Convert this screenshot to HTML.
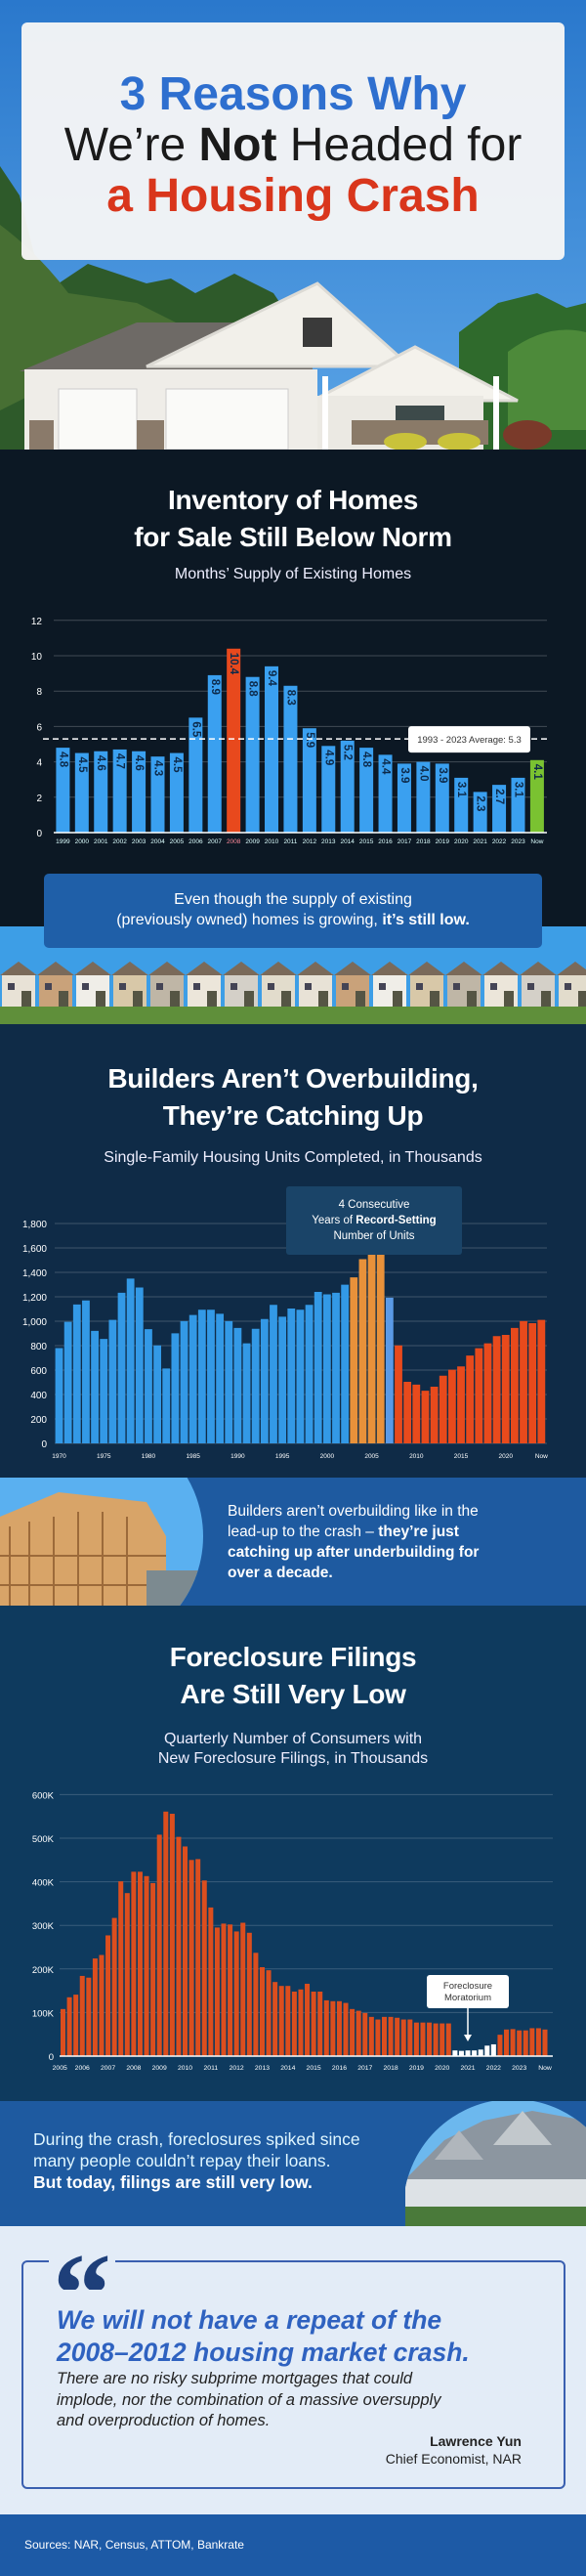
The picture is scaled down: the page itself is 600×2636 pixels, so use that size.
<!DOCTYPE html>
<html><head><meta charset="utf-8"><title>3 Reasons Why We're Not Headed for a Housing Crash</title>
<style>
*{margin:0;padding:0;box-sizing:border-box}
body{width:600px;height:2636px;position:relative;overflow:hidden;font-family:"Liberation Sans",sans-serif;background:#0c1824}
.abs{position:absolute}
.t{position:absolute;left:0;width:600px;text-align:center;color:#fff}
.h2{font-weight:bold;font-size:28px;line-height:38px;letter-spacing:-0.3px}
.sub{font-size:16px;line-height:21px;color:#eef}
</style></head><body>

<!-- Header photo -->
<svg class="abs" style="left:0;top:0" width="600" height="460">
<defs><linearGradient id="sky" x1="0" y1="0" x2="0" y2="1"><stop offset="0" stop-color="#2a78cc"/><stop offset="1" stop-color="#5aa4e6"/></linearGradient></defs>
<rect width="600" height="460" fill="url(#sky)"/>
<path d="M0 170 L20 200 L35 260 L60 290 L90 270 L120 280 L150 290 L175 285 L200 300 L240 280 L280 300 L300 330 L300 460 L0 460Z" fill="#2e5a2a"/>
<path d="M0 230 Q40 260 70 300 L140 310 L180 330 L0 420Z" fill="#476f33"/>
<path d="M470 340 L510 310 L550 300 L580 315 L600 310 L600 460 L470 460Z" fill="#2f6a2c"/>
<path d="M520 360 Q560 330 600 340 L600 440 L520 440Z" fill="#4d8a3a"/>
<polygon points="20,380 140,330 320,330 320,380" fill="#6e6a66"/>
<polygon points="150,375 325,290 420,375" fill="#f2f0ea" stroke="#dcdad4" stroke-width="3"/>
<polygon points="320,410 425,355 530,410" fill="#f4f2ec" stroke="#dedcd6" stroke-width="3"/>
<rect x="25" y="378" width="300" height="82" fill="#efede8"/>
<rect x="325" y="405" width="170" height="55" fill="#ebe9e3"/>
<rect x="60" y="398" width="80" height="62" fill="#fafaf8" stroke="#ccc"/>
<rect x="170" y="398" width="125" height="62" fill="#fafaf8" stroke="#ccc"/>
<rect x="30" y="430" width="25" height="30" fill="#8a7a6a"/>
<rect x="140" y="430" width="28" height="30" fill="#8a7a6a"/>
<rect x="310" y="325" width="30" height="30" fill="#3a3a3a"/>
<rect x="330" y="385" width="6" height="75" fill="#fff"/>
<rect x="505" y="385" width="6" height="75" fill="#fff"/>
<rect x="405" y="415" width="50" height="35" fill="#3d4a4a"/>
<rect x="360" y="430" width="140" height="25" fill="#8a7a68"/>
<ellipse cx="415" cy="452" rx="22" ry="9" fill="#c9c23a"/>
<ellipse cx="470" cy="452" rx="22" ry="9" fill="#c9c23a"/>
<ellipse cx="540" cy="445" rx="25" ry="15" fill="#7a3a2a"/>
</svg>
<div class="abs" style="left:22px;top:23px;width:556px;height:243px;background:rgba(246,246,246,0.96);border-radius:6px"></div>
<div class="t" style="top:71px;font-size:48px;line-height:52px;color:#1a1a1a">
<div style="font-weight:bold;color:#2e6fcf">3 Reasons Why</div>
<div>We’re <b>Not</b> Headed for</div>
<div style="font-weight:bold;color:#d9361c">a Housing Crash</div>
</div>

<!-- Section 1 -->
<div class="abs" style="left:0;top:460px;width:600px;height:490px;background:#0c1824"></div>
<div class="t h2" style="top:493px">Inventory of Homes<br>for Sale Still Below Norm</div>
<div class="t sub" style="top:577px">Months’ Supply of Existing Homes</div>

<!-- sky + houses strip -->
<svg class="abs" style="left:0;top:948px" width="600" height="100">
<rect width="600" height="100" fill="#3d9ee6"/>
<g id="hs"></g>
<rect y="82" width="600" height="18" fill="#5f8f3a"/>
</svg>
<div class="abs" style="left:45px;top:894px;width:510px;height:76px;background:#1f5fa8;border-radius:5px;color:#fff;font-size:16px;line-height:21px;text-align:center;padding-top:16px">Even though the supply of existing<br>(previously owned) homes is growing, <b>it’s still low.</b></div>

<!-- Section 2 -->
<div class="abs" style="left:0;top:1048px;width:600px;height:464px;background:#0f2b47"></div>
<div class="t h2" style="top:1085px">Builders Aren’t Overbuilding,<br>They’re Catching Up</div>
<div class="t sub" style="top:1174px">Single-Family Housing Units Completed, in Thousands</div>

<!-- Builders callout band -->
<div class="abs" style="left:0;top:1512px;width:600px;height:131px;background:#1e5aa0"></div>
<svg class="abs" style="left:0;top:1512px" width="210" height="131">
<defs><clipPath id="c1"><circle cx="90" cy="60" r="118"/></clipPath></defs>
<g clip-path="url(#c1)"><rect width="210" height="131" fill="#5ab0f0"/>
<polygon points="0,40 60,15 150,25 170,60 170,131 0,131" fill="#d8a468"/>
<g stroke="#9c6a3a" stroke-width="2"><line x1="10" y1="50" x2="10" y2="131"/><line x1="30" y1="45" x2="30" y2="131"/><line x1="55" y1="40" x2="55" y2="131"/><line x1="80" y1="35" x2="80" y2="131"/><line x1="105" y1="35" x2="105" y2="131"/><line x1="130" y1="40" x2="130" y2="131"/><line x1="0" y1="80" x2="170" y2="80"/><line x1="0" y1="110" x2="170" y2="110"/></g>
<rect x="150" y="95" width="60" height="36" fill="#7c8a90"/></g>
</svg>
<div class="abs" style="left:233px;top:1536px;color:#fff;font-size:15.5px;line-height:21px">Builders aren’t overbuilding like in the<br>lead-up to the crash – <b>they’re just<br>catching up after underbuilding for<br>over a decade.</b></div>

<!-- Section 3 -->
<div class="abs" style="left:0;top:1643px;width:600px;height:507px;background:#0e3a5e"></div>
<div class="t h2" style="top:1677px">Foreclosure Filings<br>Are Still Very Low</div>
<div class="t sub" style="top:1770px;line-height:20px">Quarterly Number of Consumers with<br>New Foreclosure Filings, in Thousands</div>

<!-- Foreclosure callout band -->
<div class="abs" style="left:0;top:2150px;width:600px;height:128px;background:#1e5aa0"></div>
<svg class="abs" style="left:415px;top:2150px" width="185" height="128">
<defs><clipPath id="c2"><circle cx="110" cy="110" r="112"/></clipPath></defs>
<g clip-path="url(#c2)"><rect width="185" height="128" fill="#6cb8ee"/>
<polygon points="0,80 40,40 80,20 130,10 185,20 185,128 0,128" fill="#8c96a0"/>
<polygon points="30,60 55,30 80,60" fill="#b0b6bc"/><polygon points="90,45 120,10 150,45" fill="#c2c8cc"/>
<rect x="0" y="80" width="185" height="30" fill="#dde2e6"/><rect y="108" width="185" height="20" fill="#4a7a3a"/></g>
</svg>
<div class="abs" style="left:34px;top:2178px;color:#dff6ff;font-size:17.5px;line-height:22px">During the crash, foreclosures spiked since<br>many people couldn’t repay their loans.<br><b style="color:#fff">But today, filings are still very low.</b></div>

<!-- Quote section -->
<div class="abs" style="left:0;top:2278px;width:600px;height:295px;background:#e3ecf7"></div>
<div class="abs" style="left:22px;top:2313px;width:557px;height:234px;border:2px solid #3a5fb0;border-radius:6px"></div>
<div class="abs" style="left:50px;top:2293px;width:68px;height:50px;background:#e3ecf7;color:#1e3f7a;font-family:'Liberation Serif',serif;font-size:120px;font-weight:bold;line-height:110px;text-align:center;overflow:hidden">“</div>
<div class="abs" style="left:58px;top:2358px;color:#2f62c0;font-size:26.5px;line-height:33px;font-weight:bold;font-style:italic">We will not have a repeat of the<br>2008–2012 housing market crash.</div>
<div class="abs" style="left:58px;top:2424px;color:#222;font-size:16.5px;line-height:21.5px;font-style:italic">There are no risky subprime mortgages that could<br>implode, nor the combination of a massive oversupply<br>and overproduction of homes.</div>
<div class="abs" style="right:66px;top:2489px;text-align:right;color:#222;font-size:14px;line-height:18px"><b>Lawrence Yun</b><br>Chief Economist, NAR</div>

<div class="abs" style="left:0;top:2573px;width:600px;height:63px;background:#1d5aa6"></div>
<div class="abs" style="left:25px;top:2597px;color:#fff;font-size:12px">Sources: NAR, Census, ATTOM, Bankrate</div>

<svg id="charts" class="abs" style="left:0;top:0;pointer-events:none" width="600" height="2636"></svg>

<script>
const invYears = ["1999","2000","2001","2002","2003","2004","2005","2006","2007","2008","2009","2010","2011","2012","2013","2014","2015","2016","2017","2018","2019","2020","2021","2022","2023","Now"];
const invValues = [4.8,4.5,4.6,4.7,4.6,4.3,4.5,6.5,8.9,10.4,8.8,9.4,8.3,5.9,4.9,5.2,4.8,4.4,3.9,4.0,3.9,3.1,2.3,2.7,3.1,4.1];
const invTicks = [0,2,4,6,8,10,12];
const invAverage = 5.3;

const bldYears = ["1970","1971","1972","1973","1974","1975","1976","1977","1978","1979","1980","1981","1982","1983","1984","1985","1986","1987","1988","1989","1990","1991","1992","1993","1994","1995","1996","1997","1998","1999","2000","2001","2002","2003","2004","2005","2006","2007","2008","2009","2010","2011","2012","2013","2014","2015","2016","2017","2018","2019","2020","2021","2022","2023","Now"];
const bldValues = [780,995,1137,1170,921,855,1011,1233,1349,1276,935,802,613,901,1001,1051,1094,1094,1061,1001,945,819,938,1018,1134,1037,1104,1094,1134,1240,1220,1233,1299,1359,1508,1608,1624,1193,802,504,481,431,464,554,603,630,719,779,819,878,888,945,1001,984,1011];
const bldTicks = [0,200,400,600,800,1000,1200,1400,1600,1800];
const bldTickLabels = ["0","200","400","600","800","1,000","1,200","1,400","1,600","1,800"];
const bldXLabels = ["1970","1975","1980","1985","1990","1995","2000","2005","2010","2015","2020","Now"];

const fcValues = [108,135,141,184,180,224,232,277,317,401,374,423,423,413,397,508,561,556,503,481,450,452,403,341,295,304,302,286,306,283,237,204,197,170,161,161,148,153,166,148,148,128,126,126,122,108,104,99,90,84,90,90,88,84,84,77,77,77,75,75,75,13,12,13,13,15,24,27,49,61,62,59,59,64,64,61];
const fcMoratorium = [61,62,63,64,65,66,67];
const fcTicks = [0,100,200,300,400,500,600];
const fcTickLabels = ["0","100K","200K","300K","400K","500K","600K"];
const fcXLabels = ["2005","2006","2007","2008","2009","2010","2011","2012","2013","2014","2015","2016","2017","2018","2019","2020","2021","2022","2023","Now"];

const NS = "http://www.w3.org/2000/svg";
const svg = document.getElementById("charts");
function mk(tag, attrs, parent){const e=document.createElementNS(NS,tag);for(const k in attrs)e.setAttribute(k,attrs[k]);(parent||svg).appendChild(e);return e;}
function txt(s, attrs, parent){const e=mk("text",attrs,parent);e.textContent=s;return e;}

/* ---------- Chart 1: inventory ---------- */
const x1 = i => 57.4 + i*19.42;
const y1 = v => 852 - v*18.1;
const g1 = mk("g",{});


invTicks.forEach(t=>{
  const l=mk("line",{x1:55,x2:560,y1:y1(t),y2:y1(t),stroke:"rgba(255,255,255,0.22)","stroke-width":1},g1);
  
  
  const tl=txt(String(t),{x:43,y:y1(t)+4,"text-anchor":"end",fill:"#fff","font-size":10,"font-family":"Liberation Sans"},g1);
  
  
});
invValues.forEach((v,i)=>{
  const col = invYears[i]==="2008" ? "#e8491d" : (invYears[i]==="Now" ? "#7ac231" : "#3aa0f0");
  const b=mk("rect",{x:x1(i),y:y1(v),width:14,height:y1(0)-y1(v),fill:col},g1);
  
  
  const cx=x1(i)+7, cy=y1(v)+4;
  const vl=txt(v.toFixed(1),{x:cx,y:cy,transform:`rotate(90 ${cx} ${cy})`,"dominant-baseline":"central",fill:"#0d2a4a","font-size":11.5,"font-weight":"bold","font-family":"Liberation Sans"},g1);
  
  
  const xl=txt(invYears[i],{x:cx,y:863,"text-anchor":"middle",fill:invYears[i]==="2008"?"#ff8a9a":"#dff","font-size":6.5,"font-family":"Liberation Sans"},g1);
  
  
});
const ax1=mk("line",{x1:55,x2:560,y1:y1(0),y2:y1(0),stroke:"#fff","stroke-width":1.5},g1);


const avg=mk("line",{x1:44,x2:564,y1:y1(invAverage),y2:y1(invAverage),stroke:"#fff","stroke-width":1.5,"stroke-dasharray":"6 4"},g1);


const avgBox=mk("rect",{x:418,y:y1(invAverage)-13,width:125,height:27,rx:3,fill:"#fff"},g1);


const avgT=txt("1993 - 2023 Average: "+invAverage,{x:480.5,y:y1(invAverage)+4,"text-anchor":"middle",fill:"#333","font-size":9.5,"font-family":"Liberation Sans"},g1);



/* houses strip decoration */
const hs=document.getElementById("hs");
const hcols=["#e8e2d6","#c9a27a","#f0eee8","#d8c8a8","#bfb6a6","#ece6da","#d4d0c8","#e2dccc"];
for(let k=0;k<16;k++){
  const hx=k*38;
  mk("rect",{x:hx+2,y:48,width:34,height:36,fill:hcols[k%8]},hs);
  mk("polygon",{points:`${hx},50 ${hx+19},36 ${hx+38},50`,fill:"#7a6a5a"},hs);
  mk("rect",{x:hx+8,y:58,width:7,height:7,fill:"#445"},hs);
  mk("rect",{x:hx+22,y:66,width:10,height:16,fill:"#554"},hs);
}

/* ---------- Chart 2: builders ---------- */
const x2 = i => 56.6 + i*9.145;
const y2 = v => 1477 - v*0.125;
const g2 = mk("g",{});


bldTicks.forEach((t,k)=>{
  const l=mk("line",{x1:56,x2:560,y1:y2(t),y2:y2(t),stroke:"rgba(255,255,255,0.2)","stroke-width":1},g2);
  
  
  const tl=txt(bldTickLabels[k],{x:48,y:y2(t)+4,"text-anchor":"end",fill:"#fff","font-size":10,"font-family":"Liberation Sans"},g2);
  
  
});
bldValues.forEach((v,i)=>{
  const yr=bldYears[i];
  let col="#3399e6";
  if(["2003","2004","2005","2006"].includes(yr)) col="#e8913a";
  else if(yr==="2007") col="#5a9ae6";
  else if(yr==="Now" || +yr>=2008) col="#e84a1c";
  const b=mk("rect",{x:x2(i),y:y2(v),width:7.8,height:y2(0)-y2(v),fill:col},g2);
  
  
  if(bldXLabels.includes(yr)){
    const xl=txt(yr,{x:x2(i)+3.9,y:1492,"text-anchor":"middle",fill:"#fff","font-size":6.5,"font-family":"Liberation Sans"},g2);
    
    
  }
});
const cb=mk("rect",{x:293,y:1214,width:180,height:70,rx:3,fill:"#1a4468"},g2);


const cl1=txt("4 Consecutive",{x:383,y:1236,"text-anchor":"middle",fill:"#fff","font-size":11.5,"font-family":"Liberation Sans"},g2);


const cl2=mk("text",{x:383,y:1252,"text-anchor":"middle",fill:"#fff","font-size":11.5,"font-family":"Liberation Sans"},g2);
cl2.innerHTML='Years of <tspan font-weight="bold">Record-Setting</tspan>';


const cl3=txt("Number of Units",{x:383,y:1268,"text-anchor":"middle",fill:"#fff","font-size":11.5,"font-family":"Liberation Sans"},g2);



/* ---------- Chart 3: foreclosures ---------- */
const x3 = i => 62 + i*6.58;
const y3 = v => 2104 - v*0.446;
const g3 = mk("g",{});


fcTicks.forEach((t,k)=>{
  const l=mk("line",{x1:61,x2:566,y1:y3(t),y2:y3(t),stroke:"rgba(255,255,255,0.18)","stroke-width":1},g3);
  
  
  const tl=txt(fcTickLabels[k],{x:55,y:y3(t)+4,"text-anchor":"end",fill:"#fff","font-size":9.5,"font-family":"Liberation Sans"},g3);
  
  
});
fcValues.forEach((v,i)=>{
  const col=fcMoratorium.includes(i)?"#ffffff":"#dc4e1e";
  const b=mk("rect",{x:x3(i),y:y3(v),width:5,height:y3(0)-y3(v),fill:col},g3);
  
  
});
fcXLabels.forEach((lab,k)=>{
  const xi = lab==="Now" ? fcValues.length-1 : Math.max(k*4-1,-0.5);
  const xl=txt(lab,{x:x3(xi)+2.5,y:2118,"text-anchor":"middle",fill:"#fff","font-size":6.8,"font-family":"Liberation Sans"},g3);
  
  
});
const ax3=mk("line",{x1:61,x2:566,y1:y3(0),y2:y3(0),stroke:"#fff","stroke-width":1.5},g3);


const mb=mk("rect",{x:437,y:2021,width:84,height:34,rx:3,fill:"#fff"},g3);


const mt1=txt("Foreclosure",{x:479,y:2035,"text-anchor":"middle",fill:"#333","font-size":9.5,"font-family":"Liberation Sans"},g3);


const mt2=txt("Moratorium",{x:479,y:2047,"text-anchor":"middle",fill:"#333","font-size":9.5,"font-family":"Liberation Sans"},g3);


const ar=mk("line",{x1:479,x2:479,y1:2055,y2:2084,stroke:"#fff","stroke-width":1.5},g3);


const ah=mk("polygon",{points:"475,2082 483,2082 479,2089",fill:"#fff"},g3);


</script>
</body></html>
